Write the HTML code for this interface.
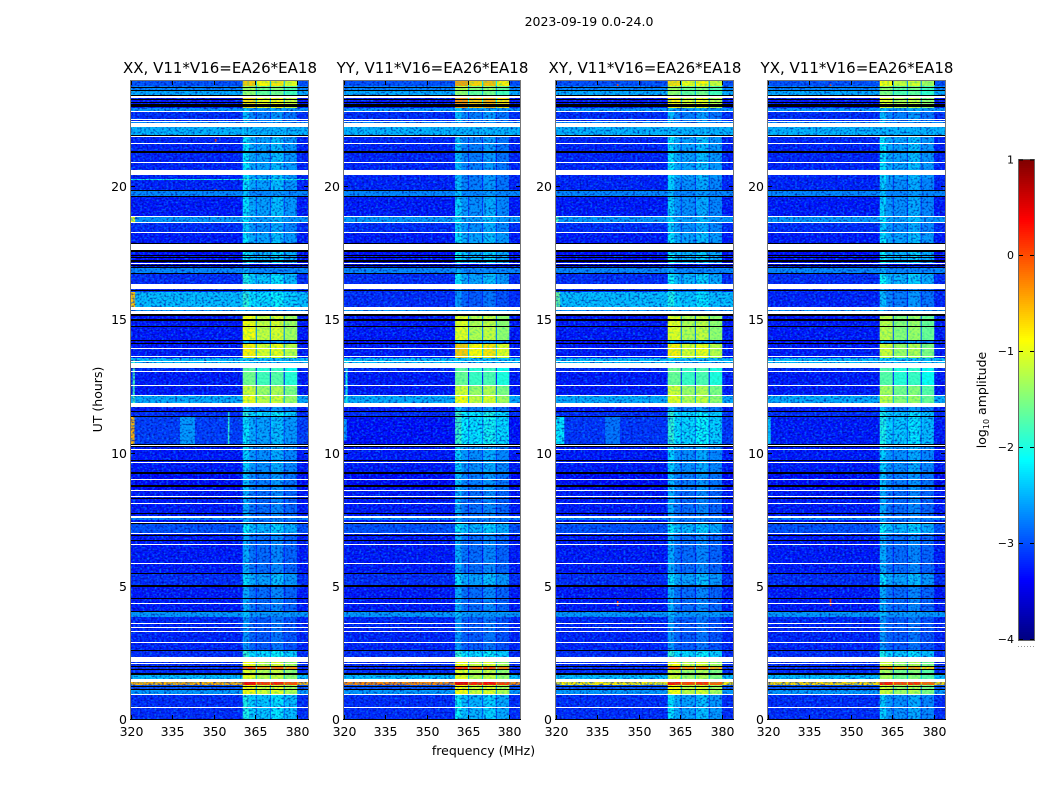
<!DOCTYPE html>
<html lang="en">
<head>
<meta charset="utf-8">
<title>2023-09-19 0.0-24.0</title>
<style>
html,body{margin:0;padding:0;background:#fff;}
#chart{display:block;width:1050px;height:800px;font-family:"DejaVu Sans","Liberation Sans",sans-serif;}
text{fill:#000;}
</style>
</head>
<body>
<svg id="chart" xmlns="http://www.w3.org/2000/svg" width="1050" height="800" viewBox="0 0 1050 800">
  <defs>
    <filter id="grain-light" x="0" y="0" width="100%" height="100%" color-interpolation-filters="sRGB">
      <feTurbulence type="fractalNoise" baseFrequency="0.42 0.55" numOctaves="1" seed="4"/>
      <feColorMatrix type="matrix" values="0 0 0 0 0  0 0 0 0 0.55  0 0 0 0 1  3 0 0 0 -1.35"/>
    </filter>
    <filter id="grain-dark" x="0" y="0" width="100%" height="100%" color-interpolation-filters="sRGB">
      <feTurbulence type="fractalNoise" baseFrequency="0.45 0.5" numOctaves="1" seed="11"/>
      <feColorMatrix type="matrix" values="0 0 0 0 0  0 0 0 0 0  0 0 0 0 0.55  3 0 0 0 -1.4"/>
    </filter>
    <filter id="grain-hot" x="0" y="0" width="100%" height="100%" color-interpolation-filters="sRGB">
      <feTurbulence type="fractalNoise" baseFrequency="0.4 0.5" numOctaves="1" seed="7" result="n"/>
      <feColorMatrix in="n" type="matrix" values="0 0 0 0 0.1  0 0 0 0 0.8  0 0 0 0 0.6  1.5 0 0 0 -0.65" result="g"/>
      <feComposite in="g" in2="SourceAlpha" operator="in" result="c"/>
      <feMerge><feMergeNode in="SourceGraphic"/><feMergeNode in="c"/></feMerge>
    </filter>
  </defs>
  <text x="589" y="26" font-size="12.5" text-anchor="middle">2023-09-19 0.0-24.0</text>
  <text x="483.5" y="755" font-size="12.5" text-anchor="middle">frequency (MHz)</text>
  <text transform="translate(102,399.5) rotate(-90)" font-size="12.5" text-anchor="middle">UT (hours)</text>
  <text transform="translate(986,400) rotate(-90)" font-size="12.5" text-anchor="middle">log<tspan font-size="8" dy="3">10</tspan><tspan dy="-3"> amplitude</tspan></text>
  <g id="panels"></g>
  <g id="colorbar"></g>
</svg>
<script>
// ---------- Data ----------
const panelNames = ["XX", "YY", "XY", "YX"];
const baselineLabel = "V11*V16=EA26*EA18";
const freqTicks = [320, 335, 350, 365, 380];
const hourTicks = [0, 5, 10, 15, 20];
const colorTicks = [1, 0, -1, -2, -3, -4];
const colorTickLabels = ["1", "0", "\u22121", "\u22122", "\u22123", "\u22124"];

// Frequency segments (MHz): background, four sub-band blocks with gaps, background
const freqEdges = [320, 360.4, 362.7, 365.1, 365.5, 370.2, 370.6, 375.2, 375.6, 380, 384];
const segmentInBand = [false, true, true, true, true, true, true, true, true, false];
const quietOffset = [0, 0.1, -0.2, -0.7, -0.25, -0.75, -0.1, -0.75, -0.3, 0];
const lockedOffset = [0, 0.1, 0.1, -1.7, -0.15, -1.7, -0.05, -1.7, -0.3, 0];

// Upper edge (UT hours) of each time band, top to bottom
const bandTopHours = [
  24, 23.80, 23.65, 23.38, 23.00, 22.86, 22.44, 22.26, 21.94, 20.30,
  20.26, 19.85, 19.66, 18.87, 18.65, 18.27, 17.56, 17.10, 16.96, 16.77,
  16.35, 16.05, 15.47, 15.15, 14.25, 14.10, 13.58, 13.20, 13.05, 12.56,
  12.15, 11.89, 11.58, 11.35, 10.34, 10.23, 9.21, 8.61, 7.56, 7.48,
  7.33, 6.95, 5.45, 4.96, 4.02, 3.83, 2.56, 2.33, 2.14, 1.99,
  1.84, 1.65, 1.50, 1.43, 1.28, 1.09, 0.90
];

// log10 amplitude outside the sub-band block, per time band
const offXX = [
  -3.0, -2.7, -2.5, -3.3, -2.6, -3.2, -2.7, -2.45, -3.25, -2.0,
  -3.25, -2.7, -3.3, -2.6, -3.2, -3.3, -3.35, -3.6, -2.7, -3.2,
  -3.2, -2.4, -2.6, -3.3, -3.4, -3.3, -2.4, -3.2, -3.3, -3.3,
  -2.5, -3.3, -3.2, -3.1, -3.3, -3.3, -3.4, -3.3, -2.7, -3.3,
  -3.0, -3.3, -3.2, -3.3, -2.6, -3.25, -3.2, -3.2, -3.2, -3.2,
  -3.2, -2.4, -3.2, -0.5, -3.0, -2.6, -3.2
];
const offYY = [
  -3.0, -2.7, -2.5, -3.3, -2.6, -3.2, -2.7, -2.45, -3.25, -3.25,
  -3.25, -2.7, -3.3, -2.6, -3.2, -3.3, -3.35, -3.6, -2.7, -3.2,
  -3.2, -3.2, -2.6, -3.3, -3.4, -3.3, -2.4, -3.2, -3.3, -3.3,
  -2.5, -3.3, -3.2, -3.35, -3.3, -3.3, -3.4, -3.3, -2.7, -3.3,
  -3.0, -3.3, -3.2, -3.3, -2.6, -3.25, -3.2, -3.2, -3.2, -3.2,
  -3.2, -2.4, -3.2, -0.3, -3.0, -2.6, -3.2
];
const offXY = [
  -3.0, -2.7, -2.5, -3.3, -2.6, -3.2, -2.7, -2.45, -3.25, -3.25,
  -3.25, -2.7, -3.3, -2.6, -3.2, -3.3, -3.35, -3.6, -2.7, -3.2,
  -3.2, -2.4, -2.6, -3.3, -3.4, -3.3, -2.4, -3.2, -3.3, -3.3,
  -2.5, -3.3, -3.2, -3.15, -3.3, -3.3, -3.4, -3.3, -2.7, -3.3,
  -3.0, -3.3, -3.2, -3.3, -2.6, -3.25, -3.2, -3.2, -3.2, -3.2,
  -3.2, -2.4, -3.2, -0.8, -3.0, -2.6, -3.2
];
const offYX = [
  -3.0, -2.7, -2.5, -3.3, -2.6, -3.2, -2.7, -2.45, -3.25, -3.25,
  -3.25, -2.7, -3.3, -2.6, -3.2, -3.3, -3.35, -3.6, -2.7, -3.2,
  -3.2, -3.25, -2.6, -3.3, -3.4, -3.3, -2.4, -3.2, -3.3, -3.3,
  -2.5, -3.3, -3.2, -3.3, -3.3, -3.3, -3.4, -3.3, -2.7, -3.3,
  -3.0, -3.3, -3.2, -3.3, -2.6, -3.25, -3.2, -3.2, -3.2, -3.2,
  -3.2, -2.4, -3.2, -0.7, -3.0, -2.6, -3.2
];

// log10 amplitude inside the sub-band block, per time band
const onXX = [
  -0.7, -1.4, -1.5, -0.8, -2.4, -2.5, -2.5, -2.5, -2.3, -1.9,
  -2.3, -2.5, -2.3, -2.3, -2.4, -2.3, -2.2, -3.2, -2.6, -2.1,
  -2.6, -2.0, -2.5, -1.0, -2.5, -0.9, -2.4, -1.8, -1.65, -1.2,
  -1.05, -2.5, -2.0, -2.3, -2.4, -2.4, -2.5, -2.6, -2.6, -2.6,
  -2.2, -2.6, -2.3, -2.6, -2.5, -2.7, -2.0, -2.5, -1.0, 0.0,
  -1.1, -1.1, -1.1, 0.3, -0.95, -0.95, -2.1
];
const onYY = [
  -0.5, -1.3, -1.5, -0.4, -2.4, -2.5, -2.5, -2.6, -2.5, -2.5,
  -2.5, -2.5, -2.4, -2.3, -2.4, -2.3, -2.2, -3.2, -2.6, -2.3,
  -2.7, -2.7, -2.5, -1.1, -2.5, -0.7, -2.4, -1.8, -1.7, -1.2,
  -1.0, -2.5, -1.9, -1.95, -2.4, -2.4, -2.5, -2.6, -2.6, -2.6,
  -2.2, -2.6, -2.3, -2.6, -2.5, -2.7, -2.0, -2.5, -1.0, 0.1,
  -1.1, -1.1, -1.1, 0.4, -0.95, -0.95, -2.2
];
const onXY = [
  -0.8, -1.4, -1.5, -0.9, -2.4, -2.5, -2.5, -2.5, -2.3, -2.4,
  -2.4, -2.5, -2.4, -2.3, -2.4, -2.3, -2.2, -3.2, -2.6, -2.2,
  -2.6, -2.1, -2.5, -1.1, -2.5, -0.9, -2.4, -1.7, -1.7, -1.2,
  -1.1, -2.5, -2.0, -2.0, -2.4, -2.4, -2.5, -2.6, -2.6, -2.6,
  -2.2, -2.6, -2.3, -2.6, -2.5, -2.7, -2.0, -2.5, -1.0, -0.1,
  -1.2, -1.2, -1.2, 0.2, -1.0, -1.0, -2.3
];
const onYX = [
  -1.0, -1.5, -1.6, -1.1, -2.4, -2.5, -2.5, -2.5, -2.3, -2.4,
  -2.4, -2.5, -2.4, -2.3, -2.4, -2.3, -2.2, -3.2, -2.6, -2.2,
  -2.6, -2.5, -2.5, -1.3, -2.5, -1.2, -2.4, -1.85, -1.8, -1.4,
  -1.3, -2.5, -2.1, -2.1, -2.4, -2.4, -2.5, -2.6, -2.6, -2.6,
  -2.2, -2.6, -2.3, -2.6, -2.5, -2.7, -2.1, -2.5, -1.2, -0.3,
  -1.4, -1.4, -1.4, 0.2, -1.2, -1.2, -2.4
];

// Localised features: [freqLow, freqHigh, hourTop, hourBottom, log10 amplitude]
const featuresXX = [
  [320, 321.5, 16.05, 15.47, -0.6], [320, 321.3, 11.35, 10.34, -0.5], [320, 321.5, 18.87, 18.65, -1],
  [320.6, 321.4, 13.5, 11.9, -1.8], [337.7, 343.1, 11.35, 10.34, -2.6], [355, 355.6, 11.58, 10.34, -1.9],
  [350.3, 350.9, 21.8, 21.7, 0.1], [350.3, 350.9, 19.95, 19.9, 0.1]
];
const featuresYY = [
  [320.5, 321.3, 13.5, 11.9, -2.0], [320, 321, 11.3, 10.5, -2.6]
];
const featuresXY = [
  [320, 321.5, 16.05, 15.47, -1.6], [320, 321, 18.87, 18.65, -1.8], [320, 323, 11.35, 10.34, -2.2],
  [337.7, 343.1, 11.35, 10.34, -2.8], [342, 342.6, 4.45, 4.25, 0.1], [342, 342.6, 23.9, 23.82, 0.1]
];
const featuresYX = [
  [320, 321, 11.35, 10.34, -2.4], [342.3, 342.9, 4.5, 4.25, 0.1], [342.3, 342.9, 23.9, 23.82, 0.1]
];

// Masked (white) and zero-amplitude (black) integrations: [hourTop, hourBottom]
const whiteRanges = [
  [23.42,23.365],[22.857,22.82],[22.583,22.545],[22.49,22.47],[22.42,22.26],[21.94,21.90],[21.68,21.65],[20.94,20.90],
  [20.65,20.45],[18.91,18.87],[18.68,18.65],[18.31,18.27],[17.86,17.63],[17.14,17.12],[16.35,16.19],[15.50,15.40],
  [15.35,15.22],[13.94,13.90],[13.66,13.64],[13.46,13.43],[13.39,13.20],[13.09,13.05],[12.58,12.56],[12.17,12.15],
  [11.87,11.73],[10.29,10.26],[10.14,10.11],[9.65,9.62],[9.04,9.01],[8.63,8.60],[8.39,8.38],[8.13,8.09],
  [7.63,7.57],[7.41,7.37],[7.00,6.97],[6.59,6.55],[5.86,5.84],[4.36,4.32],[3.62,3.60],[3.45,3.41],
  [3.31,3.28],[2.88,2.86],[2.34,2.14],[2.10,2.08],[1.50,1.40],[0.94,0.91],[0.44,0.41]
];
const blackRanges = [
  [23.78,23.76],[23.66,23.64],[23.46,23.43],[23.31,23.28],[23.21,23.18],[23.13,23.02],[21.98,21.94],[21.35,21.29],
  [19.89,19.85],[19.67,19.63],[17.92,17.86],[17.63,17.56],[17.44,17.42],[17.38,17.36],[17.28,17.26],[17.22,17.20],
  [17.09,17.05],[16.99,16.96],[16.77,16.73],[16.13,16.09],[15.22,15.16],[15.03,14.99],[14.78,14.75],[14.25,14.21],
  [14.16,14.10],[11.60,11.58],[11.38,11.36],[10.33,10.30],[10.26,10.24],[9.76,9.72],[9.29,9.21],[8.79,8.71],
  [8.31,8.26],[7.76,7.73],[7.36,7.32],[6.93,6.90],[6.73,6.70],[5.51,5.46],[5.03,4.96],[4.54,4.50],
  [4.05,4.01],[2.59,2.56],[2.00,1.97],[1.87,1.83],[1.72,1.67],[1.25,1.21],[1.12,1.09]
];

// ---------- Scales ----------
const SVGNS = "http://www.w3.org/2000/svg";
const panelLefts = [131, 344, 556, 768];
const panelWidths = [177, 176, 177, 177];
const plotTop = 81, plotBottom = 719;
const freqMin = 320, freqMax = 384, hourMax = 24, colorMin = -4, colorMax = 1;
const tickPixelsPerHour = 26.65;
const cbLeft = 1019, cbWidth = 15, cbTop = 160, cbBottom = 640;

function sx(left, width, f) { return left + (f - freqMin) / (freqMax - freqMin) * width; }
function sy(h) { return plotBottom - h / hourMax * (plotBottom - plotTop); }
function tickY(h) { return plotBottom - h * tickPixelsPerHour; }
function colorY(v) { return cbBottom - (v - colorMin) / (colorMax - colorMin) * (cbBottom - cbTop); }

function jet(v) {
  const t = Math.min(1, Math.max(0, (v - colorMin) / (colorMax - colorMin)));
  const c = function (center) {
    return Math.round(255 * Math.min(1, Math.max(0, 1.5 - Math.abs(4 * t - center))));
  };
  return "rgb(" + c(3) + "," + c(2) + "," + c(1) + ")";
}

function make(tag, attrs, parent) {
  const el = document.createElementNS(SVGNS, tag);
  for (const k in attrs) el.setAttribute(k, attrs[k]);
  parent.appendChild(el);
  return el;
}

// ---------- Panels ----------
const offByPanel = [offXX, offYY, offXY, offYX];
const onByPanel = [onXX, onYY, onXY, onYX];
const featuresByPanel = [featuresXX, featuresYY, featuresXY, featuresYX];
const panelsRoot = document.getElementById("panels");

panelNames.forEach(function (name, p) {
  const left = panelLefts[p];
  const panelWidth = panelWidths[p];
  const g = make("g", {}, panelsRoot);
  
  

  const quietLayer = make("g", {}, g);
  
  

  // decorative speckle texture (a filter, not data)
  const light = make("rect", { x: left, y: plotTop, width: panelWidth, height: plotBottom - plotTop, filter: "url(#grain-light)", opacity: "0.75" }, g);
  
  
  const dark = make("rect", { x: left, y: plotTop, width: panelWidth, height: plotBottom - plotTop, filter: "url(#grain-dark)", opacity: "0.7" }, g);
  
  

  const lockedLayer = make("g", { filter: "url(#grain-hot)" }, g);
  
  

  // heatmap cells
  bandTopHours.forEach(function (top, i) {
    const bottom = i + 1 < bandTopHours.length ? bandTopHours[i + 1] : 0;
    const y0 = Math.round(sy(top)), y1 = Math.round(sy(bottom));
    const off = offByPanel[p][i], on = onByPanel[p][i];
    const locked = on >= -1.85;
    const profile = locked ? lockedOffset : quietOffset;
    for (let s = 0; s < segmentInBand.length; s++) {
      const v = segmentInBand[s] ? Math.max(off, on + profile[s]) : off;
      const x0 = sx(left, panelWidth, freqEdges[s]), x1 = sx(left, panelWidth, freqEdges[s + 1]);
      const layer = (locked && segmentInBand[s]) ? lockedLayer : quietLayer;
      const cell = make("rect", { x: x0.toFixed(2), y: y0, width: (x1 - x0 + 0.3).toFixed(2), height: y1 - y0, fill: jet(v) }, layer);
      
      
    }
  });

  // localised features
  featuresByPanel[p].forEach(function (d) {
    const x0 = sx(left, panelWidth, d[0]), x1 = sx(left, panelWidth, d[1]);
    const y0 = Math.round(sy(d[2])), y1 = Math.round(sy(d[3]));
    const mark = make("rect", { x: x0.toFixed(2), y: y0, width: (x1 - x0).toFixed(2), height: Math.max(1, y1 - y0), fill: jet(d[4]) }, quietLayer);
    
    
  });

  // masked and zero rows
  whiteRanges.forEach(function (r) {
    const y0 = Math.round(sy(r[0])), y1 = Math.round(sy(r[1]));
    const row = make("rect", { x: left, y: y0, width: panelWidth, height: Math.max(1, y1 - y0), fill: "#fff" }, g);
    
    
  });
  blackRanges.forEach(function (r) {
    const y0 = Math.round(sy(r[0])), y1 = Math.round(sy(r[1]));
    const row = make("rect", { x: left, y: y0, width: panelWidth, height: Math.max(1, y1 - y0), fill: "#000" }, g);
    
    
  });

  // frame
  const frame = make("rect", { x: left - 0.5, y: plotTop - 0.5, width: panelWidth + 1, height: plotBottom - plotTop + 1, fill: "none", stroke: "#777", "stroke-width": 1 }, g);
  
  
  const base = make("line", { x1: left - 1, x2: left + panelWidth + 1, y1: plotBottom + 0.5, y2: plotBottom + 0.5, stroke: "#000", "stroke-width": 1 }, g);
  
  

  // title
  const title = make("text", { x: left + panelWidth / 2 + 0.5, y: 73, "font-size": 15, "text-anchor": "middle" }, g);
  title.textContent = name + ", " + baselineLabel;
  
  

  // x ticks
  freqTicks.forEach(function (f) {
    const x = Math.round(sx(left, panelWidth, f)) + 0.5;
    const tickB = make("line", { x1: x, x2: x, y1: plotBottom, y2: plotBottom - 4, stroke: "#000", "stroke-width": 1 }, g);
    
    
    const tickT = make("line", { x1: x, x2: x, y1: plotTop, y2: plotTop + 4, stroke: "#000", "stroke-width": 1 }, g);
    
    
    const lab = make("text", { x: x, y: 736, "font-size": 12.5, "text-anchor": "middle" }, g);
    lab.textContent = String(f);
    
    
  });

  // y ticks
  hourTicks.forEach(function (h) {
    const y = Math.round(tickY(h)) + 0.5;
    const tickL = make("line", { x1: left, x2: left + 4, y1: y, y2: y, stroke: "#000", "stroke-width": 1 }, g);
    
    
    const tickR = make("line", { x1: left + panelWidth, x2: left + panelWidth - 4, y1: y, y2: y, stroke: "#000", "stroke-width": 1 }, g);
    
    
    const lab = make("text", { x: left - 4, y: y + 4.5, "font-size": 12.5, "text-anchor": "end" }, g);
    lab.textContent = String(h);
    
    
  });
});

// ---------- Colorbar ----------
const cb = document.getElementById("colorbar");
for (let y = cbTop; y < cbBottom; y += 2) {
  const v = colorMax - (y + 1 - cbTop) / (cbBottom - cbTop) * (colorMax - colorMin);
  const seg = make("rect", { x: cbLeft, y: y, width: cbWidth, height: 2.3, fill: jet(v) }, cb);
  
  
}
const cbFrame = make("rect", { x: cbLeft - 0.5, y: cbTop - 0.5, width: cbWidth + 1, height: cbBottom - cbTop + 1, fill: "none", stroke: "#666", "stroke-width": 1 }, cb);


colorTicks.forEach(function (v, i) {
  const y = Math.round(colorY(v)) + (v === colorMax ? 0 : -0.5);
  const t1 = make("line", { x1: cbLeft, x2: cbLeft + 4, y1: y, y2: y, stroke: "#000" }, cb);
  
  
  const t2 = make("line", { x1: cbLeft + cbWidth, x2: cbLeft + cbWidth - 4, y1: y, y2: y, stroke: "#000" }, cb);
  
  
  const lab = make("text", { x: 1014, y: y + 3.5, "font-size": 11, "text-anchor": "end" }, cb);
  lab.textContent = colorTickLabels[i];
  
  
});
const cbDots = make("line", { x1: 1018, x2: 1035, y1: 646.5, y2: 646.5, stroke: "#999", "stroke-width": 1, "stroke-dasharray": "1 2" }, cb);


</script>
</body>
</html>
